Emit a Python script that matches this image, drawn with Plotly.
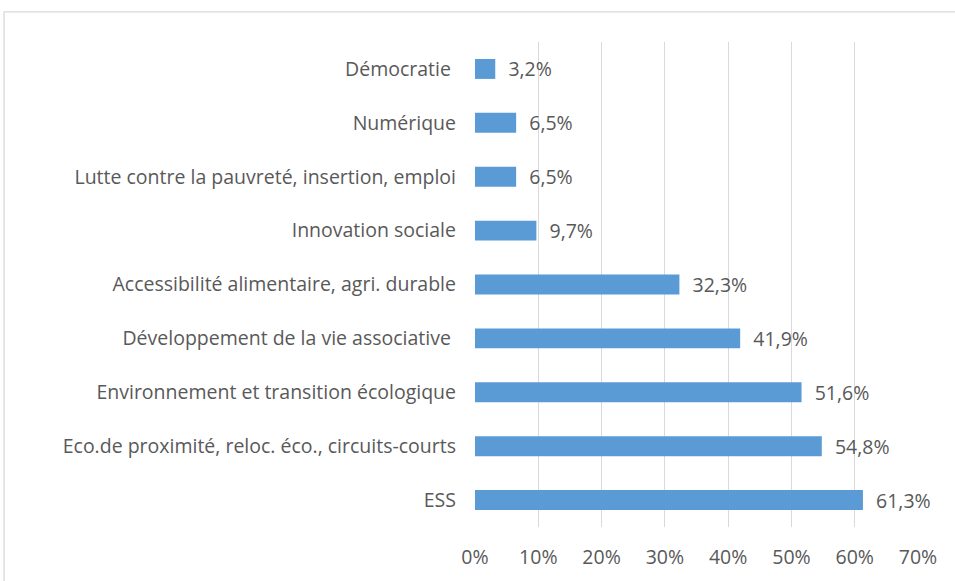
import plotly.graph_objects as go

categories = [
    "ESS",
    "Eco.de proximité, reloc. éco., circuits-courts",
    "Environnement et transition écologique",
    "Développement de la vie associative ",
    "Accessibilité alimentaire, agri. durable",
    "Innovation sociale",
    "Lutte contre la pauvreté, insertion, emploi",
    "Numérique",
    "Démocratie ",
]
values = [61.3, 54.8, 51.6, 41.9, 32.3, 9.7, 6.5, 6.5, 3.2]
labels = ["61,3%", "54,8%", "51,6%", "41,9%", "32,3%", "9,7%", "6,5%", "6,5%", "3,2%"]
tick_vals = [0, 10, 20, 30, 40, 50, 60, 70]
tick_text = ["0%", "10%", "20%", "30%", "40%", "50%", "60%", "70%"]

font_family = "Open Sans, Lato, sans-serif"
grey = "#595959"
fsize = 19.5

fig = go.Figure(go.Bar(
    x=values, y=categories, orientation="h",
    marker=dict(color="#5B9BD5", line=dict(width=0)),
    text=["  " + t for t in labels], textposition="outside",
    textfont=dict(color=grey, size=fsize, family=font_family),
    constraintext="none",
    cliponaxis=False,
    width=0.37,
))

fig.update_layout(
    width=955, height=581,
    margin=dict(l=475, r=37, t=42, b=54),
    paper_bgcolor="white", plot_bgcolor="white",
    showlegend=False,
    font=dict(family=font_family, color=grey, size=fsize),
    uniformtext=dict(mode=False),
    xaxis=dict(range=[0, 70], tickvals=tick_vals, ticktext=tick_text,
               showgrid=True, gridcolor="#D9D9D9", gridwidth=1.3,
               zeroline=False, showline=False, ticks="",
               ticklabelstandoff=16,
               tickfont=dict(size=fsize, color=grey)),
    yaxis=dict(showgrid=False, zeroline=False, showline=False, ticks="",
               ticklabelstandoff=18,
               tickfont=dict(size=fsize, color=grey)),
    shapes=[dict(type="rect", xref="paper", yref="paper",
                 x0=-1.063, x1=1.1, y0=-0.2, y1=1.062,
                 line=dict(color="#D9D9D9", width=1.3), layer="below")],
)

fig.write_html("out.html", config={"displayModeBar": False},
               post_script="document.body.style.margin='0';")
